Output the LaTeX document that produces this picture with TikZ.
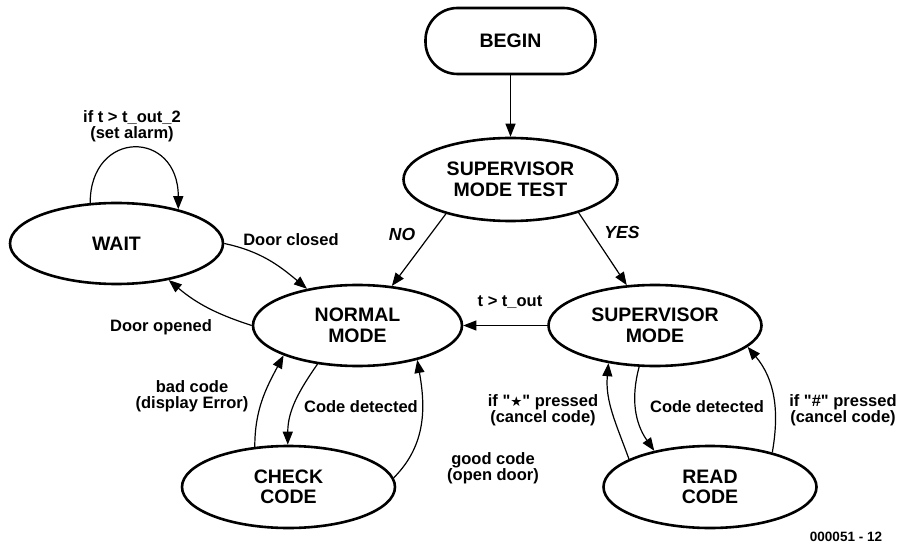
\documentclass[tikz,border=0pt]{standalone}
\usepackage{fontspec}
\setmainfont{Liberation Sans}[Ligatures=TeXOff]
\newfontfamily\symfont{DejaVu Sans}
\usetikzlibrary{shapes.geometric,arrows.meta}
\begin{document}
\begin{tikzpicture}[x=1pt,y=-1pt,
  state/.style={draw, ellipse, line width=2.6pt, minimum width=213pt, minimum height=81pt,
    inner sep=0pt, align=center, font=\fontsize{19.5}{20.5}\selectfont\bfseries},
  lbl/.style={align=center, inner sep=0pt, font=\fontsize{16.5}{15.5}\selectfont\bfseries},
  yn/.style={inner sep=0pt, font=\fontsize{17.5}{18}\selectfont\bfseries\itshape},
  conn/.style={line width=1.2pt, -{Triangle[length=13pt,width=10pt]}},
]
\useasboundingbox (0,0) rectangle (900,548);

% states
\node[draw, rounded corners=32pt, line width=2.6pt, minimum width=170pt, minimum height=66pt,
  inner sep=0pt, font=\fontsize{19.5}{20.5}\selectfont\bfseries] (begin) at (510.5,41) {BEGIN};
\node[state, minimum width=214pt, minimum height=83pt] (smt) at (510.5,179.5) {SUPERVISOR\\MODE TEST};
\node[state] (wait) at (116.5,243.5) {WAIT};
\node[state, minimum width=209pt] (normal) at (357.5,325.5) {NORMAL\\MODE};
\node[state] (sup) at (655,325.5) {SUPERVISOR\\MODE};
\node[state, minimum height=82pt] (check) at (288.5,487) {CHECK\\CODE};
\node[state, minimum height=82pt] (read) at (710,487) {READ\\CODE};

% connectors
\draw[conn] (begin) -- (smt);
\draw[conn] (smt.208) -- (normal.49);
\draw[conn] (smt.334) -- (sup.125);
\draw[conn] (wait.123) .. controls +(0,-74) and +(0,-80) .. (wait.29);
\draw[conn] (wait.0) to[out=-12,in=140] (normal.144);
\draw[conn] (normal.180) to[out=162,in=-40] (wait.-35);
\draw[conn] (sup.west) -- (normal.east);
\draw[conn] (normal.224) to[out=-125,in=90] (check.91);
\draw[conn] (check.130) to[out=90,in=-118] (normal.202);
\draw[conn] (check.5) to[out=45,in=-80] (normal.-30);
\draw[conn] (sup.249) to[out=-105,in=125] (read.147);
\draw[conn] (read.161) to[out=110,in=-95] (sup.219);
\draw[conn] (read.29) to[out=80,in=-50] (sup.-13);

% labels
\node[yn] (lno) at (402,234) {NO};
\node[yn] (lyes) at (622,232) {YES};
\node[lbl] (lloop) at (132,126) {if t > t\_out\_2\\(set alarm)};
\node[lbl] (lclosed) at (291,240) {Door closed};
\node[lbl] (lopened) at (161,327) {Door opened};
\node[lbl] (ltout) at (510,302) {t > t\_out};
\node[lbl] (lbad) at (192,396) {bad code\\(display Error)};
\node[lbl] (lcd1) at (361,407) {Code detected};
\node[lbl] (lgood) at (493,468) {good code\\(open door)};
\node[lbl] (lstar) at (543,410) {if "\raisebox{0.3pt}{\symfont\fontsize{13.5}{13.5}\selectfont ★}" pressed\\(cancel code)};
\node[lbl] (lcd2) at (707,407) {Code detected};
\node[lbl] (lhash) at (843,410) {if "\#" pressed\\(cancel code)};
\node[inner sep=0pt, font=\fontsize{13.5}{14}\selectfont\bfseries] (fig) at (846,537) {000051 - 12};
\end{tikzpicture}
\end{document}
